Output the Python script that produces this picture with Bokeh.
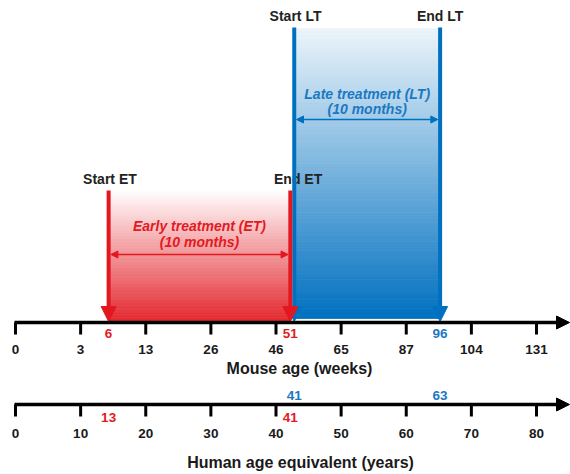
import numpy as np
from bokeh.plotting import figure
from bokeh.models import Arrow, NormalHead, Range1d
from bokeh.core.properties import value
from bokeh.embed import file_html
from bokeh.resources import INLINE

# ---------------- data ----------------
mouse_week_ticks = [0, 3, 13, 26, 46, 65, 87, 104, 131]
human_year_ticks = [0, 10, 20, 30, 40, 50, 60, 70, 80]
phases = ["ET", "LT"]
phase_titles = ["Early treatment (ET)", "Late treatment (LT)"]
phase_durations = ["(10 months)", "(10 months)"]
start_weeks = [6, 51]
end_weeks = [51, 96]
start_years = [13, 41]
end_years = [41, 63]
# where each phase sits along the drawn axis (human-year scale)
start_pos = [14.3, 42.8]
end_pos = [42.2, 65.2]

# ---------------- layout helpers ----------------
W, H = 570, 474
PX = 80 / 521.0            # years per pixel along x
def Y(img_y):              # picture pixel row -> y coordinate
    return H - img_y

RED = "#E3171F"
BLUE = "#0070C0"
RED_TXT = "#E31A22"
BLUE_TXT = "#1B78C2"
DARK = "#1A1A1A"
FONT = value("Liberation Sans")

p = figure(width=W, height=H, output_backend="svg", toolbar_location=None,
           x_range=Range1d(-15 * PX, 555 * PX), y_range=Range1d(0, H),
           min_border=0, min_border_left=0, min_border_right=0,
           min_border_top=0, min_border_bottom=0)
p.axis.visible = False
p.grid.visible = False
p.outline_line_color = None
p.background_fill_color = "white"
p.border_fill_color = "white"

def hexrgb(h):
    h = h.lstrip("#")
    return np.array([int(h[i:i + 2], 16) for i in (0, 2, 4)], dtype=float)

def gradient(x0, x1, top, bottom, base, f0, f1, n=90):
    c = hexrgb(base)
    edges = np.linspace(top, bottom, n + 1)
    t = (np.arange(n) + 0.5) / n
    f = f0 + (f1 - f0) * t
    cols = []
    for fi in f:
        rgb = 255 * (1 - fi) + c * fi
        cols.append("#%02x%02x%02x" % tuple(int(round(v)) for v in rgb))
    p.quad(left=[x0] * n, right=[x1] * n, top=edges[:-1], bottom=edges[1:],
           fill_color=cols, line_color=cols, line_width=0.8)

# ---- gradient fills ----
gradient(start_pos[1], end_pos[1], Y(28), Y(318), BLUE, 0.07, 1.0)
gradient(start_pos[0], end_pos[0], Y(190), Y(321), "#E21C23", 0.0, 0.95)

# ---- vertical phase lines with arrowheads ----
line_tops = [Y(190), Y(27)]
colors = [RED, BLUE]
for i in [1, 0]:
    for xpos in (start_pos[i], end_pos[i]):
        p.add_layout(Arrow(end=NormalHead(size=15, fill_color=colors[i], line_color=colors[i], line_width=1),
                           x_start=xpos, y_start=line_tops[i], x_end=xpos, y_end=Y(321),
                           line_color=colors[i], line_width=4))

# ---- double-headed duration arrows ----
dur_y = [Y(254), Y(119)]
for i in range(2):
    p.add_layout(Arrow(start=NormalHead(size=7, fill_color=colors[i], line_color=colors[i], line_width=1),
                       end=NormalHead(size=7, fill_color=colors[i], line_color=colors[i], line_width=1),
                       x_start=start_pos[i] + 0.35, y_start=dur_y[i],
                       x_end=end_pos[i] - 0.35, y_end=dur_y[i],
                       line_color=colors[i], line_width=1.5))

# ---- phase texts ----
title_y = [Y(225), Y(93)]
dur_txt_y = [Y(241), Y(108)]
txt_cols = [RED_TXT, BLUE_TXT]
for i in range(2):
    mid = (start_pos[i] + end_pos[i]) / 2
    p.text(x=[mid], y=[title_y[i]], text=[phase_titles[i]], text_font=FONT,
           text_font_style="bold italic", text_font_size="14px", text_color=txt_cols[i],
           text_align="center", text_baseline="middle")
    p.text(x=[mid], y=[dur_txt_y[i]], text=[phase_durations[i]], text_font=FONT,
           text_font_style="bold italic", text_font_size="14px", text_color=txt_cols[i],
           text_align="center", text_baseline="middle")

# ---- Start / End headings ----
head_y = [Y(178), Y(15)]
for i in range(2):
    p.text(x=[start_pos[i] + 0.2, end_pos[i] + 1.2 - 1.2 * i], y=[head_y[i]] * 2,
           text=["Start " + phases[i], "End " + phases[i]], text_font=FONT,
           text_font_style="bold", text_font_size="14px", text_color="#222222",
           text_align="center", text_baseline="middle")

# ---- axes ----
axis_rows = [Y(322), Y(404)]
tick_labels = [[str(v) for v in mouse_week_ticks], [str(v) for v in human_year_ticks]]
label_rows = [Y(349), Y(433)]
for a in range(2):
    ay = axis_rows[a]
    p.add_layout(Arrow(end=NormalHead(size=13, fill_color="black", line_color="black", line_width=1),
                       x_start=-1 * PX, y_start=ay, x_end=554 * PX, y_end=ay,
                       line_color="black", line_width=3.5))
    p.segment(x0=human_year_ticks, y0=[ay] * 9, x1=human_year_ticks, y1=[ay - 12] * 9,
              line_color="black", line_width=3)
    p.text(x=human_year_ticks, y=[label_rows[a]] * 9, text=tick_labels[a], text_font=FONT,
           text_font_style="bold", text_font_size="13.5px", text_color=DARK,
           text_align="center", text_baseline="middle")

# ---- event values on the mouse-age axis ----
ev_x = [start_pos[0], end_pos[0], end_pos[1]]
ev_txt = [str(start_weeks[0]), str(end_weeks[0]), str(end_weeks[1])]
ev_col = [RED_TXT, RED_TXT, BLUE_TXT]
p.text(x=ev_x, y=[Y(333)] * 3, text=ev_txt, text_font=FONT, text_font_style="bold",
       text_font_size="13.5px", text_color=ev_col, text_align="center", text_baseline="middle")

# ---- event values on the human-age axis ----
p.text(x=[start_pos[0], end_pos[0]], y=[Y(417)] * 2,
       text=[str(start_years[0]), str(end_years[0])], text_font=FONT, text_font_style="bold",
       text_font_size="13.5px", text_color=RED_TXT, text_align="center", text_baseline="middle")
p.text(x=[start_pos[1], end_pos[1]], y=[Y(395)] * 2,
       text=[str(start_years[1]), str(end_years[1])], text_font=FONT, text_font_style="bold",
       text_font_size="13.5px", text_color=BLUE_TXT, text_align="center", text_baseline="middle")

# ---- axis titles ----
p.text(x=[(299 - 15) * PX], y=[Y(368)], text=["Mouse age (weeks)"], text_font=FONT,
       text_font_style="bold", text_font_size="16px", text_color=DARK,
       text_align="center", text_baseline="middle")
p.text(x=[(300 - 15) * PX], y=[Y(462)], text=["Human age equivalent (years)"], text_font=FONT,
       text_font_style="bold", text_font_size="16px", text_color=DARK,
       text_align="center", text_baseline="middle")

open("out.html", "w").write(file_html(p, INLINE))
